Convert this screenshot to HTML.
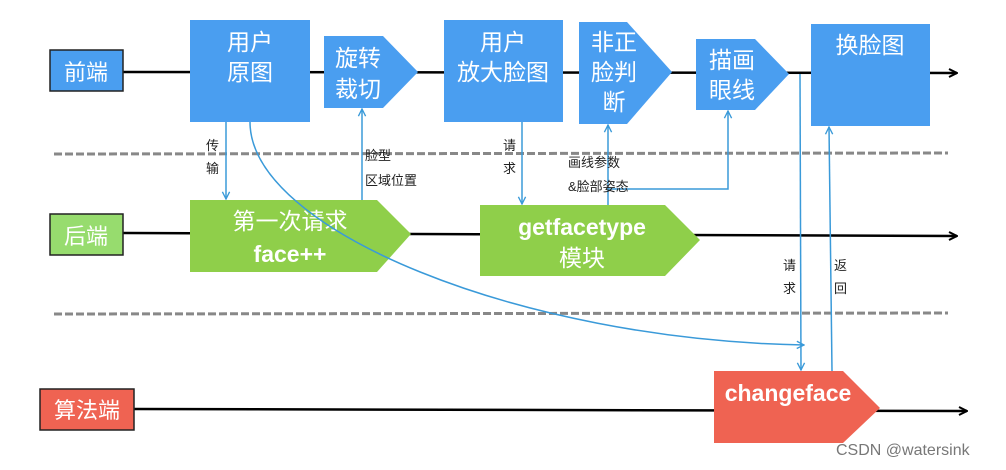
<!DOCTYPE html>
<html><head><meta charset="utf-8"><style>
body{margin:0;background:#fff}
svg text{font-family:"Liberation Sans","Noto Sans CJK SC",sans-serif}
</style></head><body>
<svg width="1006" height="465" viewBox="0 0 1006 465" xmlns="http://www.w3.org/2000/svg">
<defs>
<marker id="ab" viewBox="0 0 10 10" refX="9" refY="5" markerWidth="10" markerHeight="10" markerUnits="userSpaceOnUse" orient="auto"><path d="M1,1L9,5L1,9" fill="none" stroke="#000" stroke-width="2"/></marker>
<marker id="ac" viewBox="0 0 10 10" refX="9" refY="5" markerWidth="9" markerHeight="9" markerUnits="userSpaceOnUse" orient="auto"><path d="M1,1L9,5L1,9" fill="none" stroke="#3a9ad9" stroke-width="1.5"/></marker>
</defs>
<g stroke="#000" stroke-width="2.5" fill="none">
<line x1="123" y1="72" x2="957" y2="73" marker-end="url(#ab)"/>
<line x1="123" y1="233" x2="957" y2="236" marker-end="url(#ab)"/>
<line x1="134" y1="409" x2="967" y2="411" marker-end="url(#ab)"/>
</g>
<g stroke="#888" stroke-width="3" stroke-dasharray="8,3">
<line x1="54" y1="154" x2="948" y2="153"/>
<line x1="54" y1="314" x2="948" y2="313"/>
</g>
<rect x="50" y="50" width="73" height="41" fill="#4a9ef0" stroke="#222" stroke-width="1.5"/>
<text x="86" y="80" font-size="22" fill="#fff" text-anchor="middle">前端</text>
<rect x="50" y="214" width="73" height="41" fill="#97dc6e" stroke="#222" stroke-width="1.5"/>
<text x="86" y="244" font-size="22" fill="#fff" text-anchor="middle">后端</text>
<rect x="40" y="389" width="94" height="41" fill="#ef6352" stroke="#222" stroke-width="1.5"/>
<text x="87" y="418" font-size="22" fill="#fff" text-anchor="middle">算法端</text>
<g fill="#4a9ef0">
<rect x="190" y="20" width="120" height="102"/>
<path d="M324,36H383L418,72L383,108H324Z"/>
<rect x="444" y="20" width="119" height="102"/>
<path d="M579,22H627L672,72L627,124H579Z"/>
<path d="M696,39H755L789,74L755,110H696Z"/>
<rect x="811" y="24" width="119" height="102"/>
</g>
<g fill="#fff" font-size="23" text-anchor="middle">
<text x="250" y="50">用户</text><text x="250" y="80">原图</text>
<text x="358" y="66">旋转</text><text x="358" y="97">裁切</text>
<text x="503" y="50">用户</text><text x="503" y="80">放大脸图</text>
<text x="614" y="50">非正</text><text x="614" y="80">脸判</text><text x="614" y="110">断</text>
<text x="732" y="68">描画</text><text x="732" y="98">眼线</text>
<text x="870" y="53">换脸图</text>
</g>
<path d="M190,200H377L411,234L377,272H190Z" fill="#8fcf4a"/>
<path d="M480,205H665L700,240L665,276H480Z" fill="#8fcf4a"/>
<path d="M714,371H843L880,408L843,443H714Z" fill="#ef6352"/>
<g fill="#fff" text-anchor="middle">
<text x="290" y="229" font-size="23">第一次请求</text>
<text x="290" y="262" font-size="23" font-weight="bold">face++</text>
<text x="582" y="235" font-size="23" font-weight="bold">getfacetype</text>
<text x="582" y="266" font-size="23">模块</text>
<text x="788" y="401" font-size="23" font-weight="bold">changeface</text>
</g>
<g stroke="#3a9ad9" stroke-width="1.5" fill="none">
<line x1="226" y1="122" x2="226" y2="199" marker-end="url(#ac)"/>
<line x1="362" y1="200" x2="362" y2="109" marker-end="url(#ac)"/>
<line x1="522" y1="122" x2="522" y2="204" marker-end="url(#ac)"/>
<line x1="608" y1="205" x2="608" y2="125" marker-end="url(#ac)"/>
<path d="M608,189H728V111" marker-end="url(#ac)"/>
<line x1="800" y1="74" x2="801" y2="370" marker-end="url(#ac)"/>
<line x1="832" y1="371" x2="829" y2="127" marker-end="url(#ac)"/>
<path d="M250,122C250,230 520,340 804,345" marker-end="url(#ac)"/>
</g>
<g font-size="13" fill="#222">
<text x="206" y="150">传</text><text x="206" y="173">输</text>
<text x="365" y="160">脸型</text><text x="365" y="185">区域位置</text>
<text x="503" y="150">请</text><text x="503" y="173">求</text>
<text x="568" y="167">画线参数</text><text x="568" y="191">&amp;脸部姿态</text>
<text x="783" y="270">请</text><text x="783" y="293">求</text>
<text x="834" y="270">返</text><text x="834" y="293">回</text>
</g>
<text x="836" y="455" font-size="16" fill="#777">CSDN @watersink</text>
</svg>
</body></html>
